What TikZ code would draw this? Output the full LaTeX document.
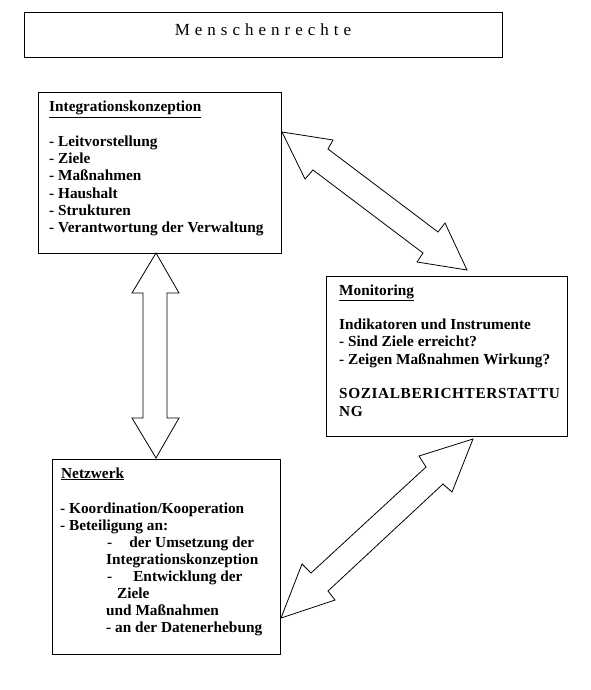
\documentclass[tikz,border=0pt]{standalone}
\usepackage{fontspec}
\setmainfont{Liberation Serif}
\newcommand\mrsp{\hspace{5pt}}
\begin{document}
\begin{tikzpicture}[x=1pt,y=-1pt,
  box/.style={draw, line width=1.2pt, inner sep=0pt, anchor=north west},
  txt/.style={anchor=base west, inner sep=0pt, font=\fontsize{15.3}{17.2}\selectfont\bfseries},
  blockarrow/.style={draw, line width=0.8pt, fill=white, line join=miter}]
\useasboundingbox (0,0) rectangle (591,690);
\fill[white] (0,0) rectangle (591,690);

% boxes
\node[box, minimum width=478pt, minimum height=45pt] (title) at (24,12) {};
\node[box, minimum width=243pt, minimum height=161pt] (integ) at (38,92) {};
\node[box, minimum width=241pt, minimum height=160pt] (monit) at (326,276) {};
\node[box, minimum width=228pt, minimum height=195pt] (netz) at (52,459) {};

% title
\node[anchor=base, inner sep=0pt, font=\fontsize{17}{20}\selectfont] (titletext) at (263,35.5)
  {M\mrsp e\mrsp n\mrsp s\mrsp c\mrsp h\mrsp e\mrsp n\mrsp r\mrsp e\mrsp c\mrsp h\mrsp t\mrsp e};

% Integrationskonzeption
\node[txt] (i0) at (49,112) {\underline{Integrationskonzeption}};
\node[txt] (i1) at (49,146.4) {- Leitvorstellung};
\node[txt] (i2) at (49,163.6) {- Ziele};
\node[txt] (i3) at (49,180.8) {- Maßnahmen};
\node[txt] (i4) at (49,198) {- Haushalt};
\node[txt] (i5) at (49,215.2) {- Strukturen};
\node[txt] (i6) at (49,232.4) {- Verantwortung der Verwaltung};

% Monitoring
\node[txt] (m0) at (339,295) {\underline{Monitoring}};
\node[txt] (m1) at (339,329.6) {Indikatoren und Instrumente};
\node[txt] (m2) at (339,346.9) {- Sind Ziele erreicht?};
\node[txt] (m3) at (339,364.2) {- Zeigen Maßnahmen Wirkung?};
\node[txt] (m4) at (339,398.8) {\addfontfeature{LetterSpace=4}SOZIALBERICHTERSTATTU};
\node[txt] (m5) at (339,416.1) {\addfontfeature{LetterSpace=4}NG};

% Netzwerk
\node[txt] (n0) at (61,478) {\underline{Netzwerk}};
\node[txt] (n1) at (60,513) {- Koordination/Kooperation};
\node[txt] (n2) at (60,530.1) {- Beteiligung an:};
\node[txt] (n3) at (107,547.2) {-\hspace{17pt}der Umsetzung der};
\node[txt] (n4) at (106,564.3) {Integrationskonzeption};
\node[txt] (n5) at (107,581.4) {-\hspace{21pt}Entwicklung der};
\node[txt] (n6) at (117,598.5) {Ziele};
\node[txt] (n7) at (106,615.6) {und Maßnahmen};
\node[txt] (n8) at (106,632.7) {- an der Datenerhebung};

% block arrows
\draw[blockarrow] (156,253) -- (179,293) -- (167,293) -- (167,418) -- (179,418)
  -- (156,458) -- (132,418) -- (143,418) -- (143,293) -- (132,293) -- cycle;
\draw[blockarrow] (282,132) -- (333,140) -- (328,149) -- (438,232) -- (445,223)
  -- (467,270) -- (417,262) -- (423,253) -- (313,170) -- (305,179) -- cycle;
\draw[blockarrow] (473,439) -- (452,492) -- (443,484) -- (328,591) -- (335,600)
  -- (281,618) -- (302,564) -- (311,573) -- (426,467) -- (419,456) -- cycle;
\end{tikzpicture}
\end{document}
